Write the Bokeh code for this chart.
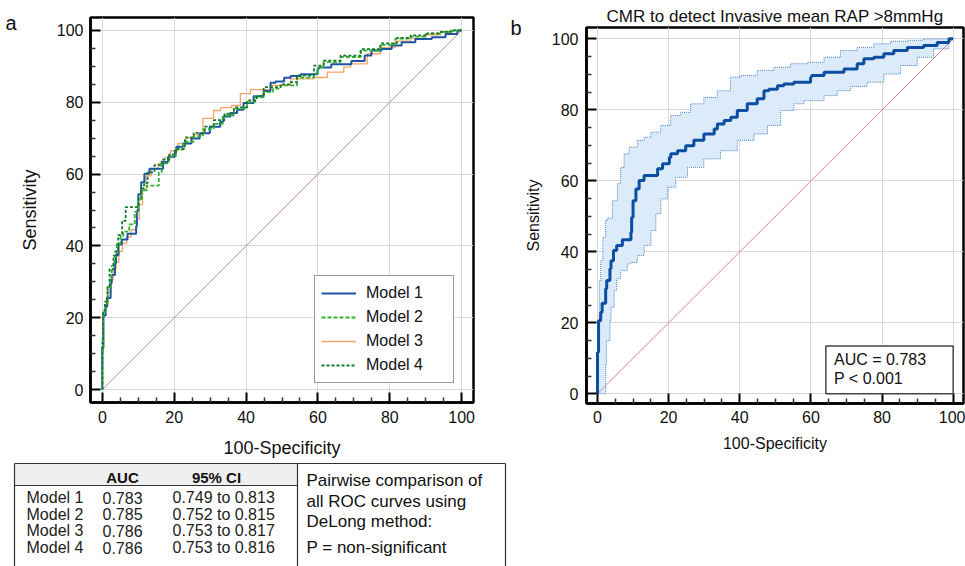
from bokeh.plotting import figure
from bokeh.layouts import row, column
from bokeh.models import Range1d, FixedTicker, Label, BoxAnnotation, Legend, LegendItem, LinearAxis
from bokeh.core.properties import value
from bokeh.embed import file_html
from bokeh.resources import INLINE

FONT = "Liberation Sans"

# ---------------- data ----------------
# Model 1 (also panel b main ROC curve)
m1_fpr = [0, 0.3, 0.9, 1.3, 2.3, 2.6, 3.5, 3.8, 4.5, 5.4, 7.0, 9.4, 9.6, 10.0, 10.8, 11.7, 13.1, 14.0, 16.9, 18.3,
          20.2, 20.6, 22.5, 24.8, 27.1, 28.0, 29.9, 30.3, 32.8, 33.7, 35.6, 37.5, 39.3, 42.1, 44.9, 46.8, 48.2, 50.6,
          52.4, 55.2, 59.9, 60.2, 63.7, 69.3, 73.0, 74.9, 77.7, 80.5, 83.3, 87.1, 91.7, 95.5, 98.8, 100]
m1_sens = [0, 11.7, 20.6, 23.0, 25.5, 29.6, 31.9, 35.2, 37.5, 40.4, 41.8, 43.4, 45.5, 49.7, 54.4, 57.7, 60.1, 61.5,
           61.5, 63.4, 64.8, 66.6, 67.6, 68.5, 69.9, 71.4, 71.4, 73.2, 73.2, 74.6, 76.0, 77.0, 77.9, 79.8, 81.7, 83.1,
           85.4, 85.8, 86.8, 87.3, 87.8, 89.2, 89.7, 90.6, 91.5, 93.0, 94.4, 94.8, 95.8, 96.7, 97.6, 98.1, 99.0, 100]

m2_fpr = [0, 0.2, 0.8, 1.5, 2.2, 2.6, 3.4, 4.0, 5.0, 5.8, 7.5, 9.0, 10.0, 11.0, 12.4, 13.2, 15.7, 16.5, 18.5, 20.5,
          22.5, 25.4, 28.0, 31.0, 33.5, 36.6, 40.3, 42.5, 44.9, 47.5, 49.6, 54.2, 58.9, 60.0, 61.6, 66.3, 71.9, 77.4,
          81.5, 85.8, 90.0, 94.2, 97.5, 100]
m2_sens = [0, 12.0, 21.5, 24.0, 28.5, 31.0, 34.5, 37.0, 40.5, 42.5, 44.0, 46.0, 49.5, 53.0, 55.5, 56.8, 56.8, 60.5,
           63.0, 65.0, 66.8, 69.0, 70.5, 72.5, 74.0, 76.3, 78.2, 80.0, 81.4, 82.8, 83.8, 84.7, 86.9, 88.0, 89.8, 91.2,
           92.6, 94.4, 96.0, 97.7, 98.3, 99.1, 99.6, 100]

m3_fpr = [0, 0.3, 0.9, 1.6, 2.4, 3.0, 3.8, 4.6, 5.6, 6.8, 8.0, 9.5, 10.3, 11.2, 12.2, 13.6, 15.5, 17.0, 19.0, 21.0,
          23.2, 25.4, 28.0, 31.0, 32.9, 36.0, 38.4, 41.2, 46.8, 52.4, 58.9, 62.6, 67.2, 69.1, 73.7, 77.4, 81.5, 85.8,
          90.0, 94.2, 97.5, 100]
m3_sens = [0, 10.5, 20.5, 23.5, 27.0, 30.5, 33.5, 35.5, 38.5, 40.8, 42.5, 44.5, 47.5, 51.5, 55.5, 59.5, 61.5, 63.0,
           64.5, 66.5, 68.5, 70.0, 71.0, 75.5, 77.7, 78.5, 79.1, 82.4, 83.5, 84.7, 86.5, 86.9, 88.4, 89.8, 90.7, 93.5,
           95.2, 97.0, 97.8, 98.8, 99.5, 100]

m4_fpr = [0, 0.2, 0.7, 1.4, 2.0, 3.1, 3.6, 4.4, 5.5, 6.5, 7.3, 10.1, 10.8, 11.6, 12.6, 14.5, 16.5, 18.6, 20.5, 23.0,
          25.4, 28.5, 31.0, 34.0, 36.6, 40.3, 43.0, 44.9, 49.6, 52.0, 54.2, 58.9, 61.6, 66.3, 71.9, 77.4, 82.0, 85.8,
          90.5, 94.2, 97.0, 100]
m4_sens = [0, 14.0, 22.0, 24.5, 28.5, 33.5, 37.3, 38.5, 43.0, 47.0, 50.8, 50.8, 53.5, 56.0, 57.5, 60.5, 62.5, 64.0,
           65.5, 67.0, 70.2, 71.5, 73.2, 75.0, 76.8, 78.6, 80.5, 81.8, 84.2, 85.0, 85.6, 87.5, 90.2, 91.6, 93.0, 94.8,
           96.4, 97.9, 98.6, 99.2, 99.6, 100]

# panel b 95% confidence bounds
ub_fpr = [0, 0.2, 0.5, 0.9, 1.5, 2.3, 2.8, 4.2, 5.6, 6.5, 7.5, 8.9, 11.2, 13.1, 15.0, 17.8, 20.6, 23.4, 26.2, 29.9,
          33.7, 37.4, 40.3, 44.9, 49.6, 54.3, 59.0, 63.7, 68.3, 73.0, 77.7, 82.4, 87.1, 91.7, 100]
ub_sens = [0, 10.0, 17.8, 31.9, 37.5, 44.1, 48.8, 49.5, 54.4, 59.2, 63.8, 67.6, 69.5, 71.4, 72.3, 73.7, 75.6, 78.4,
           79.3, 81.7, 83.5, 85.4, 89.2, 89.7, 91.1, 92.0, 93.0, 93.4, 94.8, 96.7, 97.6, 98.6, 99.3, 99.6, 100]
lb_fpr = [0, 0.9, 2.3, 2.5, 3.5, 3.8, 4.7, 5.4, 6.5, 8.4, 9.4, 11.2, 13.1, 15.0, 16.4, 17.8, 19.7, 22.0, 25.3, 29.9,
          34.6, 39.3, 44.0, 47.8, 51.5, 55.2, 58.0, 63.7, 67.4, 71.2, 75.8, 80.5, 85.2, 89.9, 94.5, 98.8, 100]
lb_sens = [0, 0, 0, 8.0, 15.0, 20.7, 24.4, 29.1, 32.4, 34.7, 36.6, 37.0, 39.0, 41.8, 46.0, 50.7, 54.9, 58.2, 61.0,
           63.8, 66.2, 68.5, 71.4, 73.2, 75.6, 79.8, 81.7, 82.6, 84.0, 85.4, 86.6, 87.8, 90.1, 92.5, 94.8, 97.2, 100]

chance = [0, 100]

models = ["Model 1", "Model 2", "Model 3", "Model 4"]
auc = ["0.783", "0.785", "0.786", "0.786"]
ci_low = ["0.749", "0.752", "0.753", "0.753"]
ci_high = ["0.813", "0.815", "0.817", "0.816"]
note_lines = ["Pairwise comparison of", "all ROC curves using", "DeLong method:", "P = non-significant"]

major_ticks = [0, 20, 40, 60, 80, 100]
minor_ticks = [v for v in range(0, 101, 5) if v % 20]


def stairs(xs, ys):
    sx, sy = [xs[0]], [ys[0]]
    for i in range(1, len(xs)):
        sx += [xs[i - 1], xs[i]]
        sy += [ys[i], ys[i]]
    return sx, sy


def style(p, tick_size, label_size, xl_stand, yl_stand, xt_stand, yt_stand):
    p.xaxis.ticker = FixedTicker(ticks=major_ticks, minor_ticks=minor_ticks)
    p.yaxis.ticker = FixedTicker(ticks=major_ticks, minor_ticks=minor_ticks)
    for ax in p.axis:
        ax.axis_line_color = "black"
        ax.axis_line_width = 2.5
        ax.major_tick_in = 10
        ax.major_tick_out = 0
        ax.major_tick_line_width = 2
        ax.major_tick_line_color = "black"
        ax.minor_tick_in = 5
        ax.minor_tick_out = 0
        ax.minor_tick_line_width = 1.5
        ax.minor_tick_line_color = "#333333"
        ax.major_label_text_font = FONT
        ax.major_label_text_font_size = tick_size
        ax.major_label_text_color = "#111111"
        ax.axis_label_text_font = FONT
        ax.axis_label_text_font_style = "normal"
        ax.axis_label_text_font_size = label_size
        ax.axis_label_text_color = "#111111"
    p.xaxis.axis_label = "100-Specificity"
    p.yaxis.axis_label = "Sensitivity"
    p.xaxis.axis_label_standoff = xl_stand
    p.yaxis.axis_label_standoff = yl_stand
    p.xaxis.major_label_standoff = xt_stand
    p.yaxis.major_label_standoff = yt_stand
    p.grid.grid_line_color = "#d9d9d9"
    p.grid.grid_line_width = 1
    p.outline_line_color = "black"
    p.outline_line_width = 2.5
    p.outline_line_alpha = 1
    p.background_fill_color = "white"
    p.border_fill_color = "white"
    p.frame_align = False


def panel_letter(p, tick, letter):
    # a bare outer axis whose single tick label is the panel letter
    ax = LinearAxis(ticker=FixedTicker(ticks=[tick]), major_label_overrides={tick: letter},
                    axis_line_color=None, major_tick_line_color=None, minor_tick_line_color=None,
                    major_tick_in=0, major_tick_out=0, major_label_standoff=0,
                    major_label_text_font=FONT, major_label_text_font_size="20px",
                    major_label_text_color="#111111")
    p.add_layout(ax, "left")


# ---------------- panel a ----------------
pa = figure(width=507, height=460, x_range=Range1d(-3.3, 103.3), y_range=Range1d(-3.6, 103.6),
            output_backend="svg", toolbar_location=None,
            min_border_left=90, min_border_right=34, min_border_top=17, min_border_bottom=58)
style(pa, "16px", "18px", 12, 14, 8, 7)
panel_letter(pa, 102, "a")

pa.line(chance, chance, line_color="#d08a8a", line_width=1)
sx, sy = stairs(m3_fpr, m3_sens)
r3 = pa.line(sx, sy, line_color="#f4a468", line_width=1.3)
sx, sy = stairs(m1_fpr, m1_sens)
r1 = pa.line(sx, sy, line_color="#1f55a5", line_width=2)
sx, sy = stairs(m2_fpr, m2_sens)
r2 = pa.line(sx, sy, line_color="#2fb32f", line_width=1.8, line_dash="4 2")
sx, sy = stairs(m4_fpr, m4_sens)
r4 = pa.line(sx, sy, line_color="#157a26", line_width=1.8, line_dash="3 2")

leg = Legend(items=[LegendItem(label=models[0], renderers=[r1]),
                    LegendItem(label=models[1], renderers=[r2]),
                    LegendItem(label=models[2], renderers=[r3]),
                    LegendItem(label=models[3], renderers=[r4])],
             location="bottom_right")
leg.margin = 19
leg.padding = 6
leg.spacing = 2
leg.label_height = 22
leg.glyph_height = 22
leg.glyph_width = 35
leg.label_width = 81
leg.label_standoff = 10
leg.label_text_font = FONT
leg.label_text_font_size = "16px"
leg.label_text_color = "#111111"
leg.border_line_color = "#333333"
leg.border_line_width = 1.5
leg.background_fill_color = "white"
leg.background_fill_alpha = 1
pa.add_layout(leg)

# ---------------- table under panel a ----------------
pt = figure(width=507, height=106, x_range=Range1d(0, 507), y_range=Range1d(0, 106),
            output_backend="svg", toolbar_location=None, min_border=0,
            x_axis_location=None, y_axis_location=None)
pt.frame_align = False
pt.grid.visible = False
pt.outline_line_color = None
pt.quad(left=[14], right=[297], bottom=[81], top=[103], fill_color="#efefef", line_color=None)
pt.segment(x0=[14, 14, 505, 297, 14], y0=[103, 103, 103, 103, 81], x1=[505, 14, 505, 297, 297],
           y1=[103, -5, -5, -5, 81], line_color="#333333", line_width=1.2)
pt.text(x=[122, 216], y=[89, 89], text=["AUC", "95% CI"], text_font=value(FONT), text_font_size="15px",
        text_font_style="bold", text_align="center", text_baseline="middle", text_color="#111111")
row_y = [69 - i * 16.7 for i in range(len(models))]
pt.text(x=[26] * len(models), y=row_y, text=models, text_font=value(FONT), text_font_size="16px",
        text_baseline="middle", text_color="#222222")
pt.text(x=[102] * len(models), y=row_y, text=auc, text_font=value(FONT), text_font_size="16px",
        text_baseline="middle", text_color="#222222")
pt.text(x=[172] * len(models), y=row_y, text=[f"{a} to {b}" for a, b in zip(ci_low, ci_high)],
        text_font=value(FONT), text_font_size="16px", text_baseline="middle", text_color="#222222")
note_y = [86, 65, 45, 19]
pt.text(x=[306] * len(note_lines), y=note_y, text=note_lines, text_font=value(FONT), text_font_size="17px",
        text_baseline="middle", text_color="#111111")

# ---------------- panel b ----------------
pb = figure(width=458, height=455, x_range=Range1d(-3.09, 102.9), y_range=Range1d(-2.73, 103.2),
            output_backend="svg", toolbar_location=None,
            min_border_left=79, min_border_right=2, min_border_top=27, min_border_bottom=52)
style(pb, "16px", "16px", 9, 7, 7, 8)
panel_letter(pb, 103, "b")
pb.title.text = "CMR to detect Invasive mean RAP >8mmHg"
pb.title.align = "center"
pb.title.text_font = FONT
pb.title.text_font_size = "17px"
pb.title.text_font_style = "normal"
pb.title.text_color = "#111111"
pb.title.standoff = 4

usx, usy = stairs(ub_fpr, ub_sens)
lsx, lsy = stairs(lb_fpr, lb_sens)
pb.patch(usx + lsx[::-1], usy + lsy[::-1], fill_color="#dcebfa", line_color=None)
pb.line(chance, chance, line_color="#d08a8a", line_width=1)
pb.line(usx, usy, line_color="#4f87c4", line_width=1, line_dash="1 1")
pb.line(lsx, lsy, line_color="#4f87c4", line_width=1, line_dash="1 1")
sx, sy = stairs(m1_fpr, m1_sens)
pb.line(sx, sy, line_color="#0b4ea2", line_width=3)

pb.add_layout(BoxAnnotation(left=64.2, right=100, bottom=0, top=13.5, fill_color="white", fill_alpha=1,
                            line_color="#444444", line_width=1.5, line_alpha=1))
pb.add_layout(Label(x=66.5, y=9.6, text=f"AUC = {auc[0]}", text_font=FONT, text_font_size="16px",
                    text_baseline="middle", text_color="#111111"))
pb.add_layout(Label(x=66.5, y=4.2, text="P < 0.001", text_font=FONT, text_font_size="16px",
                    text_baseline="middle", text_color="#111111"))

layout = row(column(pa, pt), pb)
open("out.html", "w").write(file_html(layout, INLINE))
